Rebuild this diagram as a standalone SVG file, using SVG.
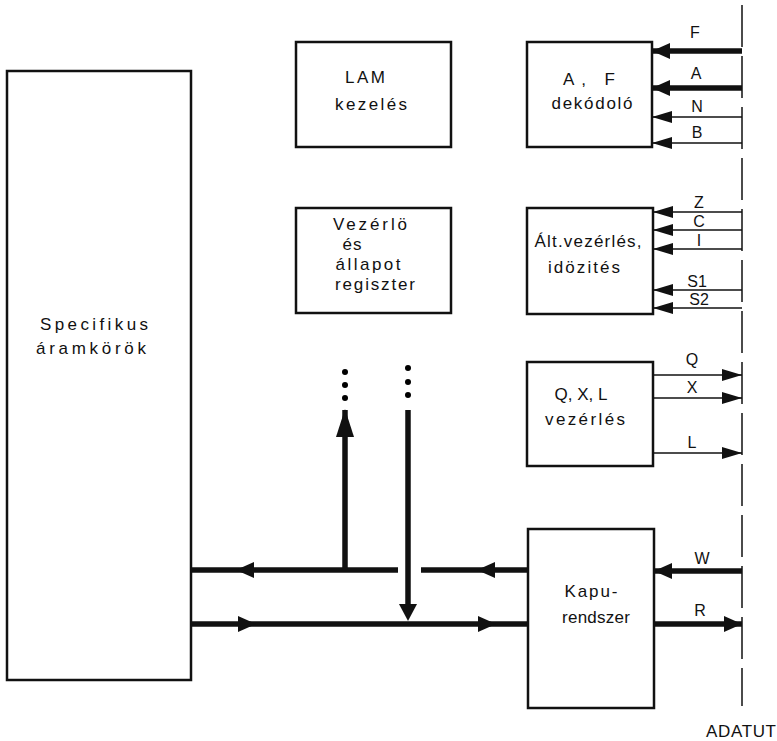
<svg xmlns="http://www.w3.org/2000/svg" width="777" height="741" viewBox="0 0 777 741">
<style>
.box{fill:#fff;stroke:#111;stroke-width:2.5}
.t{font-family:"Liberation Sans",Arial,sans-serif;font-size:17px;fill:#111;text-anchor:middle}
.l{font-family:"Liberation Sans",Arial,sans-serif;font-size:16px;fill:#111;text-anchor:middle}
.thin{stroke:#111;stroke-width:1.5;fill:none}
.thick{stroke:#111;stroke-width:5.5;fill:none}
.ah{fill:#111}
</style>
<defs>
<marker id="hs" markerUnits="userSpaceOnUse" markerWidth="20" markerHeight="12" refX="20" refY="6" orient="auto"><path d="M0,0 L20,6 L0,12 z" fill="#111"/></marker>
<marker id="hb" markerUnits="userSpaceOnUse" markerWidth="18" markerHeight="16" refX="18" refY="8" orient="auto"><path d="M0,0 L18,8 L0,16 z" fill="#111"/></marker>
</defs>
<rect width="777" height="741" fill="#fff"/>

<g id="specifikus">
<rect class="box" x="7" y="71" width="184" height="609"/>
<text class="t" x="94" y="330" textLength="108" lengthAdjust="spacing">Specifikus</text>
<text class="t" x="91" y="354" textLength="110" lengthAdjust="spacing">áramkörök</text>
</g>
<g id="lam">
<rect class="box" x="296" y="42" width="155" height="105"/>
<text class="t" x="365" y="83" textLength="40" lengthAdjust="spacing">LAM</text>
<text class="t" x="371" y="110" textLength="72" lengthAdjust="spacing">kezelés</text>
</g>
<g id="vezerlo">
<rect class="box" x="296" y="208" width="155" height="105"/>
<text class="t" x="370" y="230" textLength="74" lengthAdjust="spacing">Vezérlö</text>
<text class="t" x="352" y="250" textLength="19" lengthAdjust="spacing">és</text>
<text class="t" x="368" y="270" textLength="65" lengthAdjust="spacing">állapot</text>
<text class="t" x="375" y="290" textLength="80" lengthAdjust="spacing">regiszter</text>
</g>
<g id="af">
<rect class="box" x="527" y="42" width="125" height="105"/>
<text class="t" x="589" y="85" textLength="52" lengthAdjust="spacing">A, F</text>
<text class="t" x="592" y="109" textLength="81" lengthAdjust="spacing">dekódoló</text>
</g>
<g id="alt">
<rect class="box" x="527" y="208" width="126" height="106"/>
<text class="t" x="588" y="247" textLength="107" lengthAdjust="spacing">Ált.vezérlés,</text>
<text class="t" x="584" y="273" textLength="72" lengthAdjust="spacing">idözités</text>
</g>
<g id="qxl">
<rect class="box" x="527" y="362" width="126" height="104"/>
<text class="t" x="581" y="400" textLength="53" lengthAdjust="spacing">Q, X, L</text>
<text class="t" x="585" y="425" textLength="80" lengthAdjust="spacing">vezérlés</text>
</g>
<g id="kapu">
<rect class="box" x="528" y="529" width="126" height="179"/>
<text class="t" x="591" y="597" textLength="53" lengthAdjust="spacing">Kapu-</text>
<text class="t" x="596" y="623" textLength="68" lengthAdjust="spacing">rendszer</text>
</g>
<g id="adatut">
<line x1="742" y1="5" x2="742" y2="706" stroke="#111" stroke-width="1.5" stroke-dasharray="42 9"/>
<text class="t" x="741" y="737" font-size="15" textLength="70" lengthAdjust="spacing">ADATUT</text>
</g>

<g id="connectors">
<line class="thick" x1="742" y1="51" x2="652" y2="51" marker-end="url(#hb)"/>
<line class="thick" x1="742" y1="88" x2="652" y2="88" marker-end="url(#hb)"/>
<line class="thin" x1="742" y1="117" x2="652" y2="117" marker-end="url(#hs)"/>
<line class="thin" x1="742" y1="143" x2="652" y2="143" marker-end="url(#hs)"/>
<line class="thin" x1="742" y1="212" x2="653" y2="212" marker-end="url(#hs)"/>
<line class="thin" x1="742" y1="230" x2="653" y2="230" marker-end="url(#hs)"/>
<line class="thin" x1="742" y1="249" x2="653" y2="249" marker-end="url(#hs)"/>
<line class="thin" x1="742" y1="290" x2="653" y2="290" marker-end="url(#hs)"/>
<line class="thin" x1="742" y1="308" x2="653" y2="308" marker-end="url(#hs)"/>
<line class="thin" x1="653" y1="375" x2="742" y2="375" marker-end="url(#hs)"/>
<line class="thin" x1="653" y1="398" x2="742" y2="398" marker-end="url(#hs)"/>
<line class="thin" x1="653" y1="453" x2="742" y2="453" marker-end="url(#hs)"/>
<line class="thick" x1="742" y1="571" x2="654" y2="571" marker-end="url(#hb)"/>
<line class="thick" x1="654" y1="624" x2="742" y2="624" marker-end="url(#hb)"/>
<line class="thick" x1="528" y1="570" x2="421" y2="570"/>
<line class="thick" x1="398" y1="570" x2="191" y2="570"/>
<polygon class="ah" points="477,570 495,562 495,578"/>
<polygon class="ah" points="236,570 254,562 254,578"/>
<line class="thick" x1="191" y1="624" x2="528" y2="624"/>
<polygon class="ah" points="256,624 238,616 238,632"/>
<polygon class="ah" points="496,624 478,616 478,632"/>
<line class="thick" x1="345" y1="570" x2="345" y2="410"/>
<polygon class="ah" points="345,409 336,437 354,437"/>
<circle cx="345" cy="372" r="3"/>
<circle cx="345" cy="385" r="3"/>
<circle cx="345" cy="398" r="3"/>
<line class="thick" x1="408" y1="410" x2="408" y2="605"/>
<polygon class="ah" points="408,621 399,604 417,604"/>
<circle cx="408" cy="368" r="3"/>
<circle cx="408" cy="382" r="3"/>
<circle cx="408" cy="395" r="3"/>
</g>

<g id="labels">
<text class="l" x="695" y="38">F</text>
<text class="l" x="696" y="79">A</text>
<text class="l" x="697" y="112">N</text>
<text class="l" x="697" y="138">B</text>
<text class="l" x="699" y="208">Z</text>
<text class="l" x="699" y="227">C</text>
<text class="l" x="699" y="246">I</text>
<text class="l" x="697" y="287">S1</text>
<text class="l" x="699" y="305">S2</text>
<text class="l" x="692" y="365">Q</text>
<text class="l" x="692" y="393">X</text>
<text class="l" x="692" y="448">L</text>
<text class="l" x="702" y="564">W</text>
<text class="l" x="700" y="616">R</text>
</g>
</svg>
